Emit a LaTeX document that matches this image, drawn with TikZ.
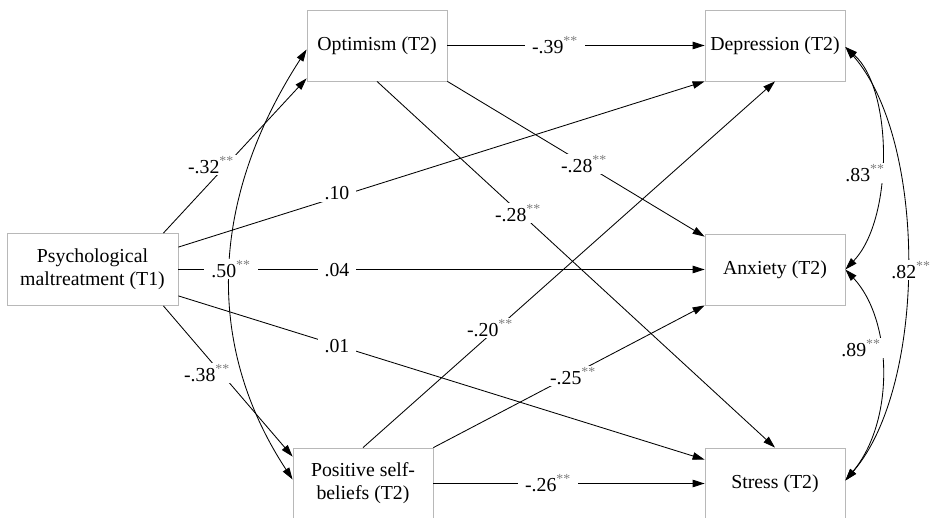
\documentclass[tikz,border=0pt]{standalone}
\usepackage{fontspec}
\setmainfont{Liberation Serif}
\usetikzlibrary{arrows.meta}
\newcommand\twostar{\textsuperscript{\color{black!50}**}}
\begin{document}
\begin{tikzpicture}[x=1pt,y=-1pt,
  box/.style={draw=black!28, line width=0.8pt, fill=white, minimum width=140pt,
    minimum height=71pt, align=center, font=\fontsize{19.8}{23}\selectfont, inner sep=0pt},
  conn/.style={line width=0.85pt, -{Triangle[length=12pt,width=7.5pt]}},
  corr/.style={line width=0.85pt, {Triangle[length=12pt,width=7.5pt]}-{Triangle[length=12pt,width=7.5pt]}},
  lab/.style={fill=white, inner xsep=7pt, inner ysep=2pt, font=\fontsize{19.8}{22}\selectfont}]
\useasboundingbox[fill=white] (0,0) rectangle (932,518);

\node[box, minimum width=171pt, minimum height=72pt] (psy) at (92.5,269.5) {Psychological\\maltreatment (T1)};
\node[box] (opt) at (377,45.5) {Optimism (T2)};
\node[box] (dep) at (775,45.5) {Depression (T2)};
\node[box] (anx) at (775,269.5) {Anxiety (T2)};
\node[box] (str) at (775,483.5) {Stress (T2)};
\node[box] (pos) at (363,483.5) {Positive self-\\beliefs (T2)};

\draw[conn] ([xshift=-15pt]psy.north east) -- ([yshift=3pt]opt.south west);
\draw[conn] ([yshift=-14pt]psy.north east) -- (dep.south west);
\draw[conn] (psy.east) -- (anx.west);
\draw[conn] ([yshift=10pt]psy.south east) -- ([yshift=-12pt]str.north west);
\draw[conn] ([xshift=-15pt]psy.south east) -- ([yshift=-9pt]pos.north west);
\draw[conn] (opt.east) -- (dep.west);
\draw[conn] (opt.south east) -- ([yshift=-3pt]anx.north west);
\draw[conn] (opt.south) -- (str.north);
\draw[conn] (pos.north) -- (dep.south);
\draw[conn] (pos.north east) -- (anx.south west);
\draw[conn] (pos.east) -- (str.west);

\draw[corr] ([yshift=-4pt]opt.west) .. controls +(-97,150) and +(-88,-134) .. ([yshift=4pt]pos.west);
\draw[corr] ([yshift=-1.5pt]dep.east) .. controls +(48,43) and +(48,-50) .. (anx.east);
\draw[corr] (anx.east) .. controls +(47,50) and +(50,-60) .. ([yshift=3pt]str.east);
\draw[corr] ([yshift=-1.5pt]dep.east) .. controls +(82,93) and +(82,-95) .. ([yshift=3pt]str.east);

\node[lab] (l1) at (211,165) {-.32\twostar};
\node[lab] (l2) at (231,269) {.50\twostar};
\node[lab] (l3) at (337,193) {.10};
\node[lab] (l4) at (337,270) {.04};
\node[lab] (l5) at (337,346) {.01};
\node[lab] (l6) at (207,373) {-.38\twostar};
\node[lab] (l7) at (555,45) {-.39\twostar};
\node[lab] (l8) at (584,164) {-.28\twostar};
\node[lab] (l9) at (518,213) {-.28\twostar};
\node[lab] (l10) at (490,328) {-.20\twostar};
\node[lab] (l11) at (573,376) {-.25\twostar};
\node[lab] (l12) at (548,483) {-.26\twostar};
\node[lab] (l13) at (865,173) {.83\twostar};
\node[lab] (l14) at (861,348) {.89\twostar};
\node[lab] (l15) at (911,270) {.82\twostar};
\end{tikzpicture}
\end{document}
